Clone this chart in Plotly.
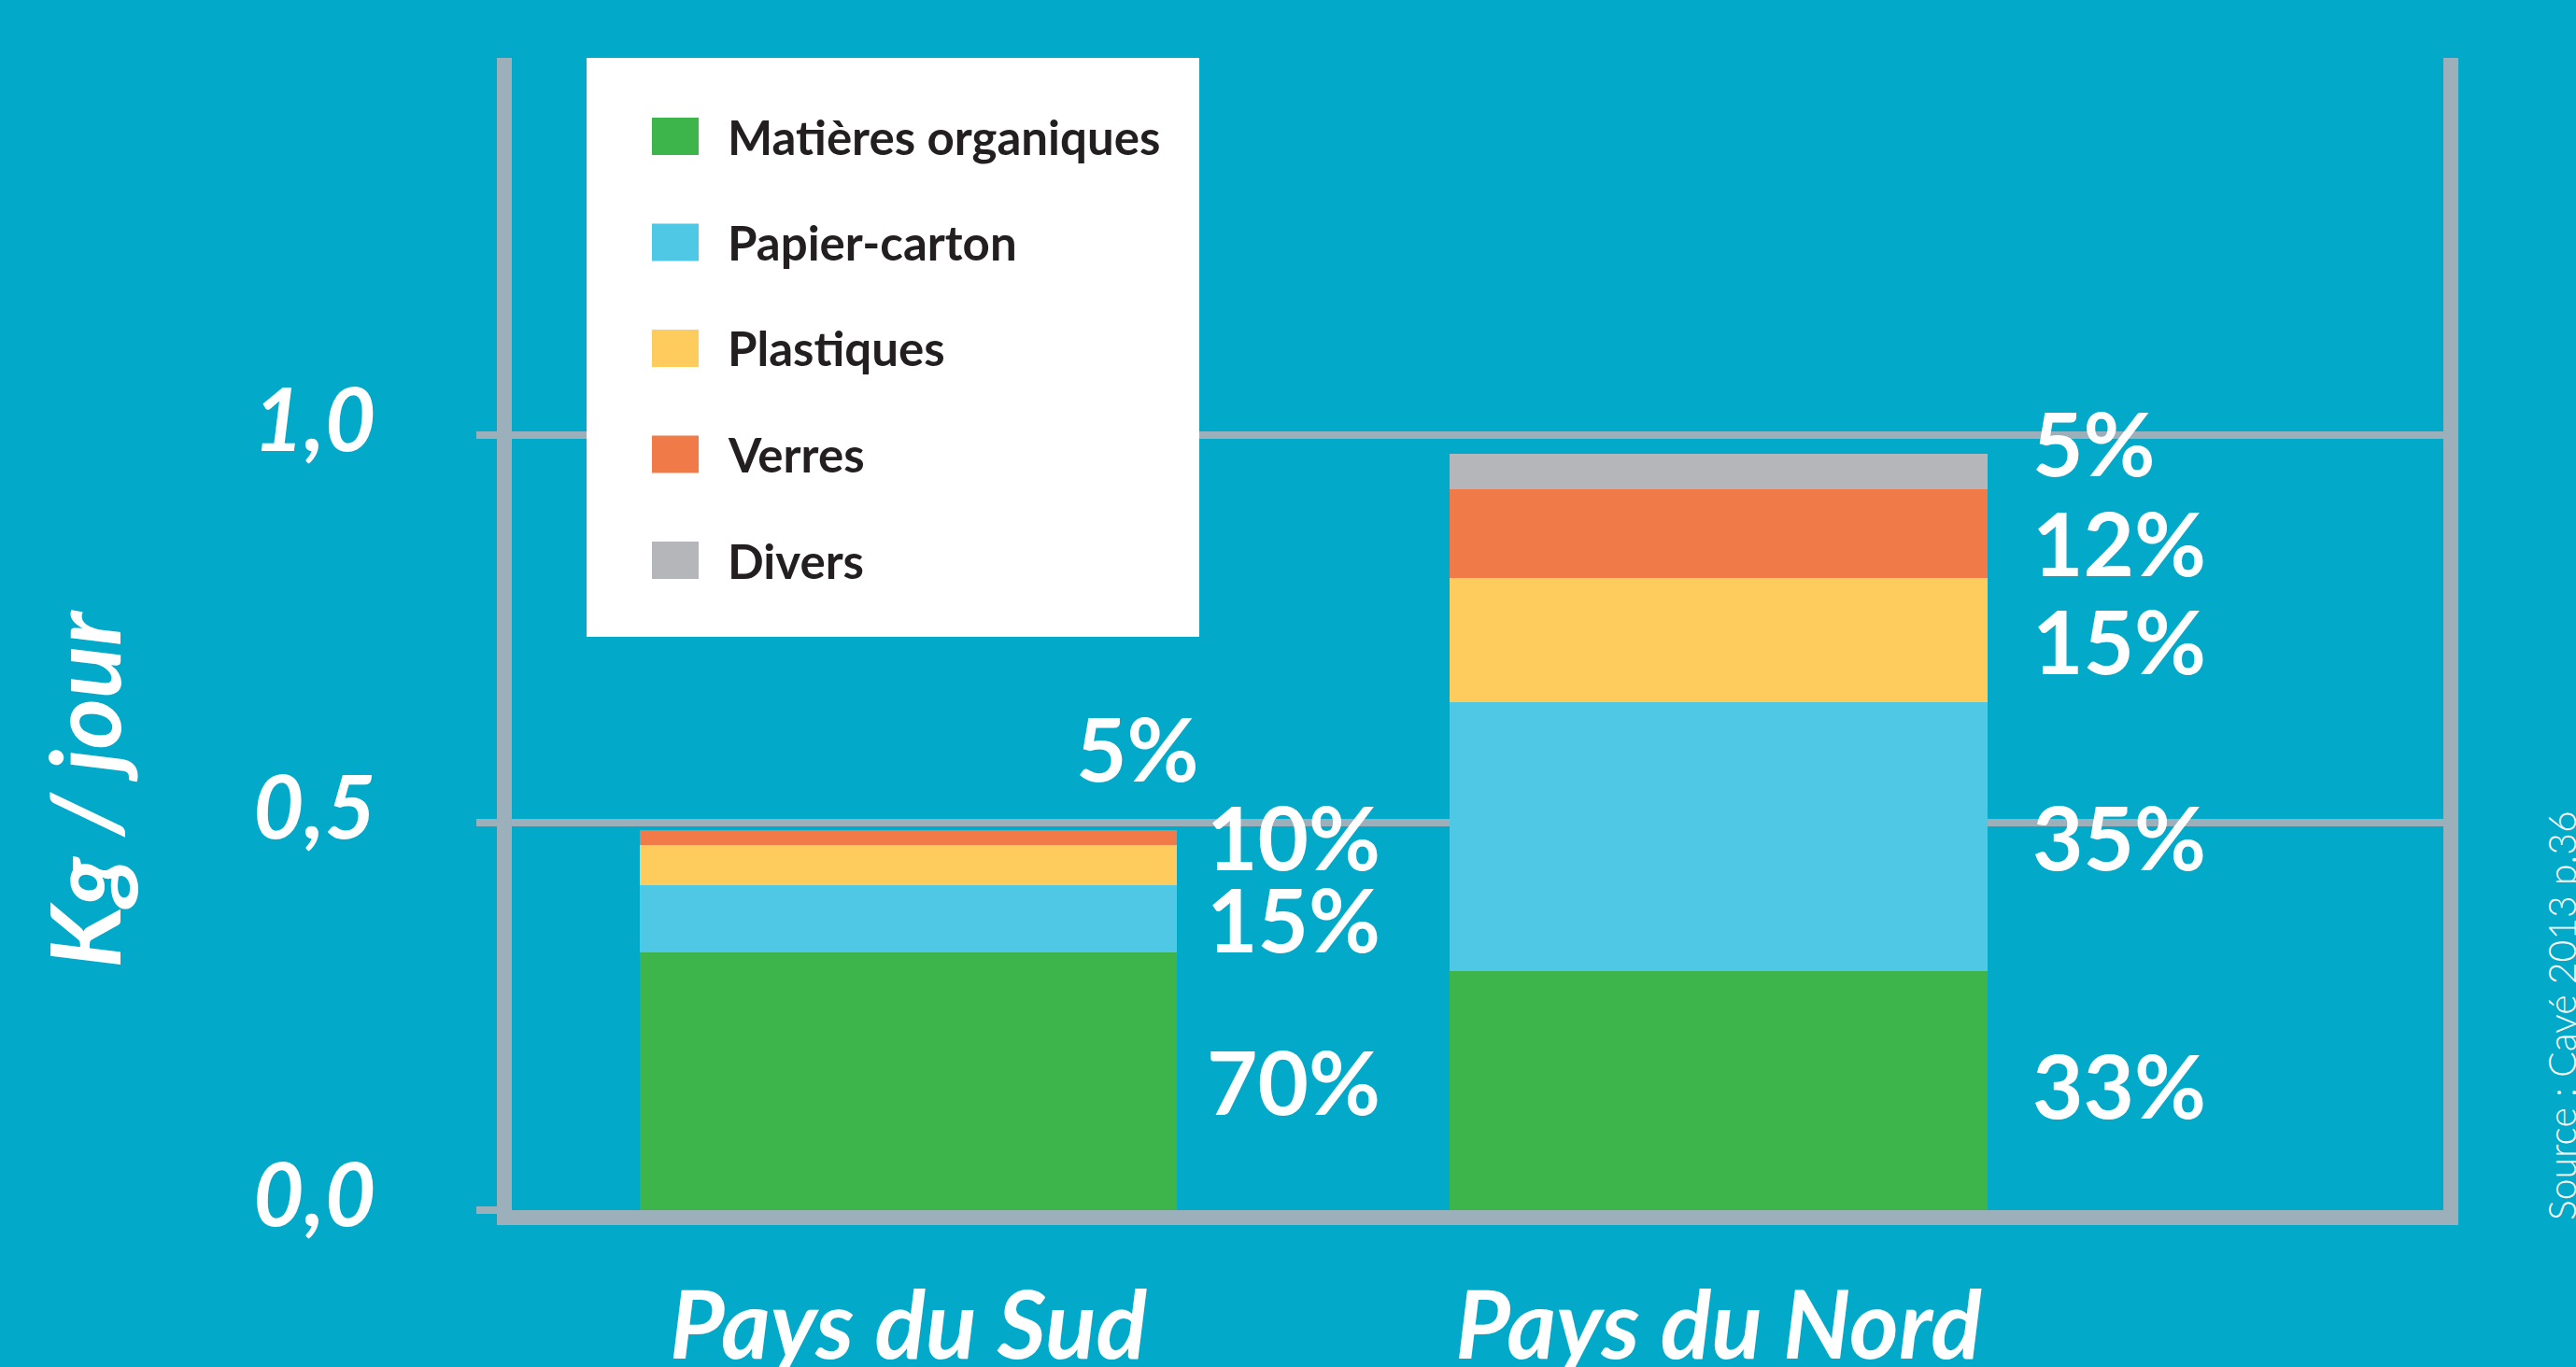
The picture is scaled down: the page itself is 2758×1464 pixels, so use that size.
import plotly.graph_objects as go

# ---------------- data ----------------
categories = ["Pays du Sud", "Pays du Nord"]
series_names = ["Matières organiques", "Papier-carton", "Plastiques", "Verres", "Divers"]
organiques = [0.333, 0.308]
papier = [0.086, 0.348]
plastiques = [0.052, 0.160]
verres = [0.019, 0.114]
divers = [0.0, 0.046]
pct_sud = ["70%", "15%", "10%", "5%", None]
pct_nord = ["33%", "35%", "15%", "12%", "5%"]
y_tickvals = [0, 0.5, 1.0]
y_ticktext = ["0,0", "0,5", "1,0"]

# ---------------- style ----------------
W, H = 2758, 1464
ML, MR, MT, MB = 548, 142, 62, 168
PW, PH = W - ML - MR, H - MT - MB
BG = "#02A9C9"
AXIS = "#9CB0BB"
colors = ["#3DB54A", "#4FC8E6", "#FECC5C", "#F07B48", "#B5B6BA"]
FONT = "Lato"


def px_x(px):
    return (px - ML) / PW


def px_y(py):
    return (H - MB - py) / PH


values = [organiques, papier, plastiques, verres, divers]
pcts = [pct_sud, pct_nord]

fig = go.Figure()
for name, vals, col in zip(series_names, values, colors):
    fig.add_trace(go.Bar(
        x=categories, y=vals, name=name, marker=dict(color=col, line=dict(width=0)),
        width=0.663, showlegend=False, hoverinfo="skip",
    ))

# percentage labels positioned at segment midpoints
label_dx = {0: 318, 1: 334}
label_dy = {(0, 2): 31, (0, 3): 97, (1, 0): 7, (1, 3): -9, (1, 4): 31}
label_dx_special = {(0, 3): 178}
annotations = []
for ci, cat in enumerate(categories):
    cum = 0.0
    for si, vals in enumerate(values):
        v = vals[ci]
        mid = cum + v / 2
        cum += v
        txt = pcts[ci][si]
        if not txt:
            continue
        annotations.append(dict(
            x=cat, y=mid, xref="x", yref="y", text=txt, showarrow=False,
            xanchor="left", yanchor="middle",
            xshift=label_dx_special.get((ci, si), label_dx[ci]),
            yshift=label_dy.get((ci, si), 0),
            font=dict(family=FONT, size=94, color="white", weight=700),
        ))

# y title
annotations.append(dict(
    x=px_x(88), y=px_y(845), xref="paper", yref="paper", text="Kg / jour",
    textangle=-90, showarrow=False, xanchor="center", yanchor="middle",
    font=dict(family=FONT, size=104, color="white", weight=700, style="italic"),
))
# source
annotations.append(dict(
    x=px_x(2742), y=px_y(1088), xref="paper", yref="paper", text="Source : Cavé 2013 p.36",
    textangle=-90, showarrow=False, xanchor="center", yanchor="middle",
    font=dict(family=FONT, size=41, color="white", weight=300),
))

# custom legend
shapes = [dict(type="rect", xref="paper", yref="paper", layer="above",
               x0=px_x(628), x1=px_x(1284), y0=px_y(682), y1=px_y(62),
               fillcolor="white", line=dict(width=0))]
row0, row_step = 146, 113.5
for i, (name, col) in enumerate(zip(series_names, colors)):
    cy = row0 + i * row_step
    shapes.append(dict(type="rect", xref="paper", yref="paper", layer="above",
                       x0=px_x(698), x1=px_x(748), y0=px_y(cy + 20), y1=px_y(cy - 20),
                       fillcolor=col, line=dict(width=0)))
    annotations.append(dict(
        x=px_x(777), y=px_y(cy), xref="paper", yref="paper", text=name, showarrow=False,
        xanchor="left", yanchor="middle",
        font=dict(family=FONT, size=51, color="#231F20", weight=700),
    ))

fig.update_layout(
    width=W, height=H, autosize=False,
    margin=dict(l=ML, r=MR, t=MT, b=MB, pad=0),
    paper_bgcolor=BG, plot_bgcolor=BG,
    barmode="stack", bargap=0,
    annotations=annotations, shapes=shapes,
    showlegend=False,
)
fig.update_xaxes(
    type="category", range=[-0.4893, 1.8945], showgrid=False, zeroline=False,
    showline=True, linewidth=16, linecolor=AXIS, mirror=False, ticks="",
    tickfont=dict(family=FONT, size=101, color="white", weight=700, style="italic"),
    ticklabelstandoff=22, automargin=False,
)
fig.update_yaxes(
    range=[0, 1.4867], tickvals=y_tickvals, ticktext=y_ticktext,
    showgrid=True, gridcolor=AXIS, gridwidth=8, zeroline=False,
    showline=True, linewidth=16, linecolor=AXIS, mirror=True,
    ticks="outside", ticklen=22, tickwidth=8, tickcolor=AXIS,
    tickfont=dict(family=FONT, size=94, color="white", weight=700, style="italic"),
    ticklabelstandoff=89, ticklabelshift=-16, automargin=False,
)

fig.write_html(
    "out.html",
    config={"displayModeBar": False},
    post_script="document.body.style.margin='0';document.body.style.overflow='hidden';"
                "document.body.style.background='#02A9C9';",
)
